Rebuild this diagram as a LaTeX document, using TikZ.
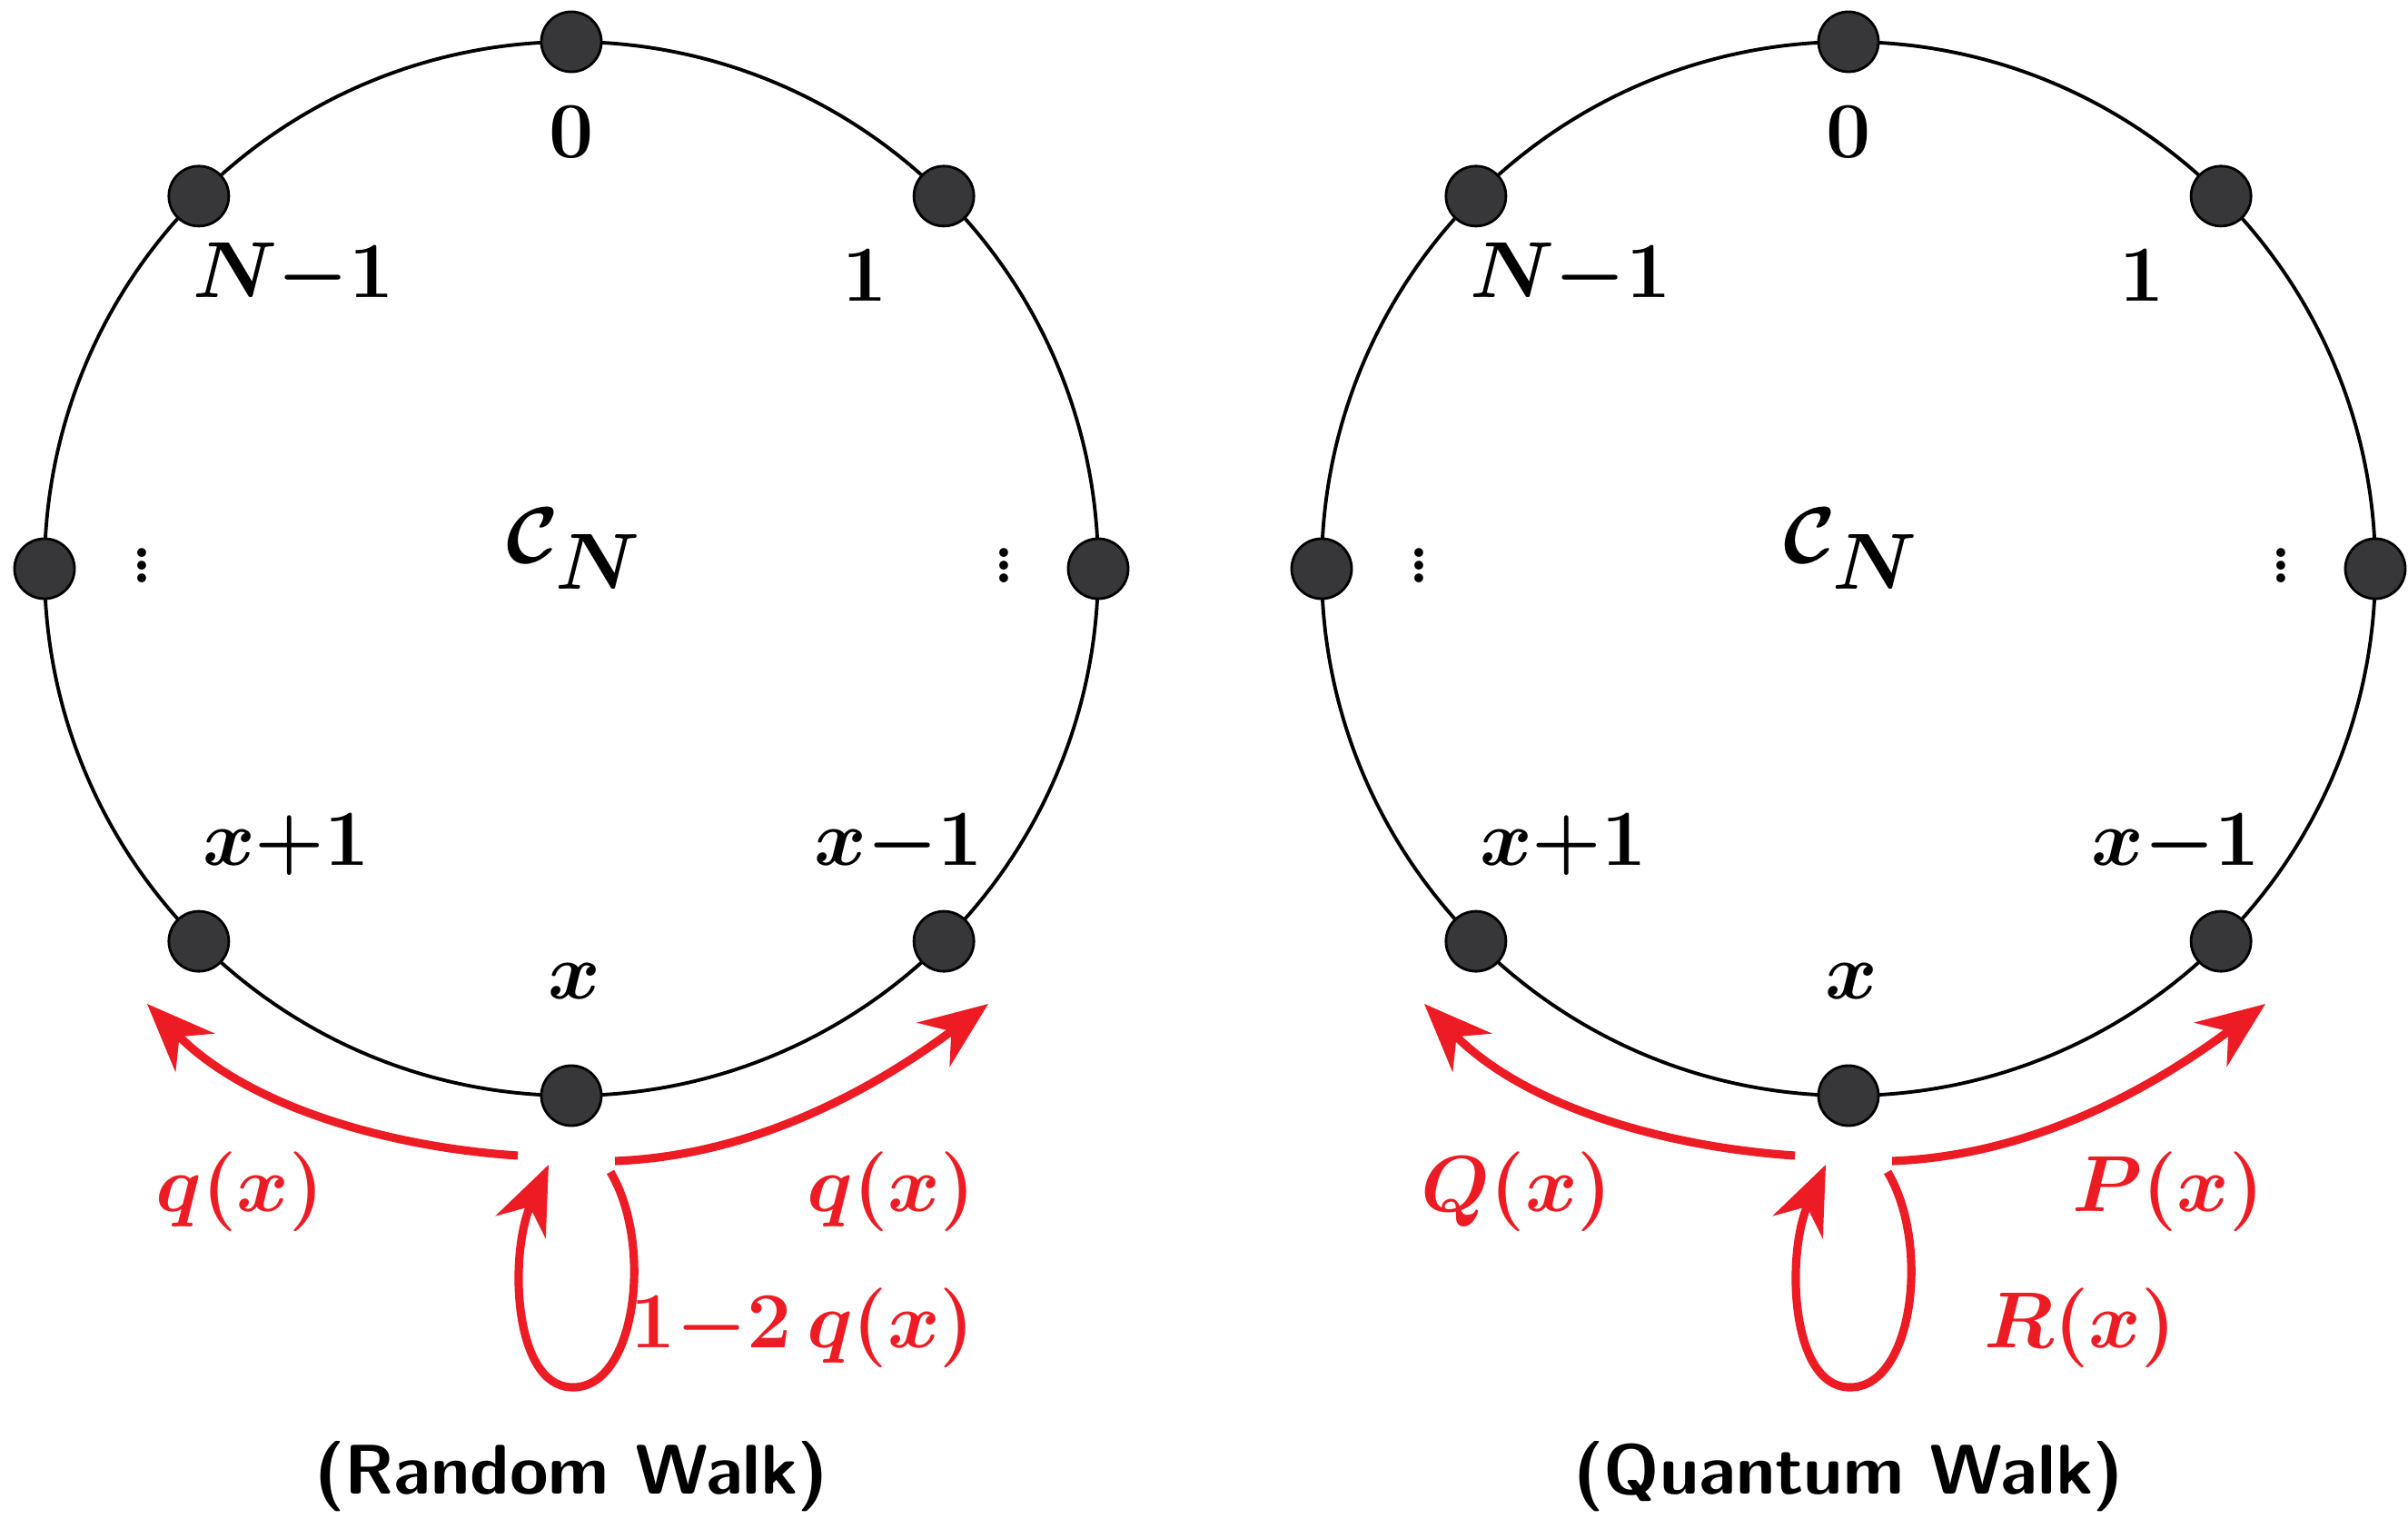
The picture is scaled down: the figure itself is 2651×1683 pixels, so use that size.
\documentclass[tikz,border=0pt]{standalone}
\usepackage{amsmath}
\usetikzlibrary{arrows.meta,calc}
\definecolor{wred}{RGB}{237,28,36}
\definecolor{vert}{RGB}{55,55,58}
\begin{document}
\begin{tikzpicture}[x=0.01cm,y=-0.01cm,
  vtx/.style={circle,fill=vert,draw=black,line width=0.8pt,minimum size=0.66cm,inner sep=0},
  lab/.style={font=\fontsize{23}{28}\selectfont\boldmath},
  rl/.style={text=wred,font=\fontsize{23}{28}\selectfont\boldmath},
  arr/.style={draw=wred,line width=2.6pt,-{Stealth[length=0.75cm,width=0.6cm]}},
  captxt/.style={font=\fontsize{22}{28}\selectfont\sffamily\bfseries}]
\useasboundingbox (0,0) rectangle (2651,1683);
\foreach \dx/\ql/\qr/\rr/\cp/\p in {0/q(x)/q(x)/1{-}2\,q(x)/(Random Walk)/L,1406/Q(x)/P(x)/R(x)/(Quantum Walk)/R}{
\begin{scope}[shift={(\dx,0)}]
\coordinate (c\p) at (629,626);
\draw[line width=1.1pt] (c\p) circle (580);
\foreach \a/\n in {90/t,45/a,135/b,180/l,0/r,225/c,315/d,270/x}
  \node[vtx] (\p\n) at ($(629,626)+(\a:580 and -580)$) {};
\node[lab] (\p0) at (629,145) {$0$};
\node[lab] (\p1) at (323,303) {$N{-}1$};
\node[lab] (\p2) at (952,303) {$1$};
\node[font=\fontsize{34}{40}\selectfont\boldmath,inner sep=0] (\p3) at (156,612) {$\vdots$};
\node[font=\fontsize{34}{40}\selectfont\boldmath,inner sep=0] (\p4) at (1105,612) {$\vdots$};
\node[font=\fontsize{44}{50}\selectfont\boldmath] (\p5) at (632,604) {$\mathcal{C}_N$};
\node[lab] (\p6) at (315,930) {$x{+}1$};
\node[lab] (\p7) at (989,930) {$x{-}1$};
\node[lab] (\p8) at (632,1080) {$x$};
\coordinate (\p s1) at (570,1272); \coordinate (\p e1) at (162,1105);
\coordinate (\p s2) at (677,1278); \coordinate (\p e2) at (1088,1105);
\coordinate (\p s3) at (672,1290); \coordinate (\p e3) at (604,1282);
\draw[arr] (\p s1) .. controls (420,1262) and (270,1215) .. (\p e1);
\draw[arr] (\p s2) .. controls (830,1272) and (960,1200) .. (\p e2);
\draw[arr] (\p s3) .. controls (720,1370) and (700,1530) .. (629,1527)
  .. controls (565,1525) and (560,1380) .. (\p e3);
\node[rl] (\p9) at (264,1312) {$\ql$};
\node[rl] (\p10) at (981,1312) {$\qr$};
\node[rl] (\p11) at (884,1462) {$\rr$};
\node[captxt] (\p12) at (629,1625) {\cp};
\end{scope}}
\end{tikzpicture}
\end{document}
